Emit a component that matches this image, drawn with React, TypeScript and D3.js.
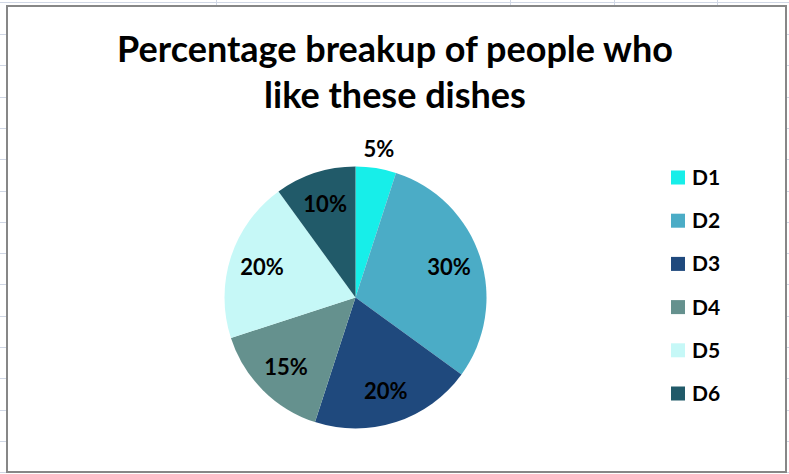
import React from "react";
import * as d3 from "d3";

const categories = ["D1", "D2", "D3", "D4", "D5", "D6"];
const values = [5, 30, 20, 15, 20, 10];
const colors = ["#17EEE9", "#4BACC6", "#1F497D", "#65918E", "#C6F8F7", "#215A69"];
const titleLines = ["Percentage breakup of people who", "like these dishes"];
const colGridX = [216, 510, 614, 717];

const W = 789;
const H = 474;

export default function App() {
  const cx = 355.5;
  const cy = 297.5;
  const r = 131;
  const total = d3.sum(values);
  const pie = d3.pie<number>().sort(null).value((d) => d)(values);
  const arc = d3.arc<d3.PieArcDatum<number>>().innerRadius(0).outerRadius(r);
  const labelArc = d3.arc<d3.PieArcDatum<number>>().innerRadius(r * 0.75).outerRadius(r * 0.75);
  const outArc = d3.arc<d3.PieArcDatum<number>>().innerRadius(r + 19).outerRadius(r + 19);
  const rowY = d3.range(0, 16).map((i) => 34 + i * 31.3);
  const legendY = d3.scalePoint<string>().domain(categories).range([177.5, 393.5]);
  const font = "Lato, 'Open Sans', sans-serif";

  return (
    <svg width={W} height={H} style={{ position: "absolute", left: 0, top: 0, display: "block", background: "#fff" }}>
      {/* spreadsheet gridlines */}
      <line x1={0} x2={W} y1={2.5} y2={2.5} stroke="#D0D7E5" strokeWidth={1} />
      {colGridX.map((x) => (
        <line key={x} x1={x + 0.5} x2={x + 0.5} y1={0} y2={6} stroke="#D0D7E5" />
      ))}
      {rowY.map((y) => (
        <g key={y}>
          <line x1={0} x2={6} y1={Math.round(y) + 0.5} y2={Math.round(y) + 0.5} stroke="#D0D7E5" />
          <line x1={787} x2={W} y1={Math.round(y) + 0.5} y2={Math.round(y) + 0.5} stroke="#D0D7E5" />
        </g>
      ))}
      {/* chart frame */}
      <rect x={7} y={6} width={779} height={466} fill="#fff" stroke="#878787" strokeWidth={2} />
      {/* title */}
      {titleLines.map((t, i) => (
        <text key={t} x={395} y={62 + i * 46} textAnchor="middle" fontFamily={font} fontWeight={700} fontSize={36} fill="#000">
          {t}
        </text>
      ))}
      {/* pie */}
      <g transform={`translate(${cx},${cy})`}>
        {pie.map((p, i) => (
          <path key={i} d={arc(p) || ""} fill={colors[i]} />
        ))}
        {pie.map((p, i) => {
          const pct = Math.round((values[i] / total) * 100) + "%";
          const inside = values[i] / total >= 0.08;
          const [lx, ly] = inside ? labelArc.centroid(p) : outArc.centroid(p);
          return (
            <text key={"l" + i} x={lx} y={ly} dy="0.36em" textAnchor="middle" fontFamily={font} fontWeight={700} fontSize={22} fill="#000">
              {pct}
            </text>
          );
        })}
      </g>
      {/* legend */}
      {categories.map((c, i) => (
        <g key={c} transform={`translate(671,${legendY(c)})`}>
          <rect x={0} y={-7} width={14} height={14} fill={colors[i]} />
          <text x={21} y={0} dy="0.36em" fontFamily={font} fontWeight={700} fontSize={21} fill="#000">
            {c}
          </text>
        </g>
      ))}
    </svg>
  );
}
